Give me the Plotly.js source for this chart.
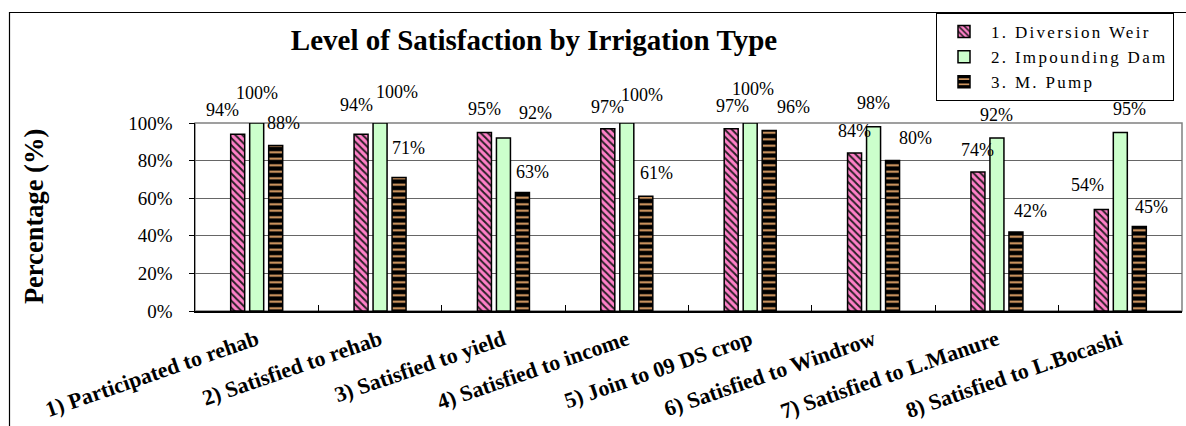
<!DOCTYPE html>
<html>
<head>
<meta charset="utf-8">
<script src="https://cdn.plot.ly/plotly-3.0.1.min.js"></script>
<style>
  html, body { margin: 0; padding: 0; background: #fff; }
  #chart { width: 1186px; height: 426px; }
  .legendtext { letter-spacing: 2.3px; }
</style>
</head>
<body>
<div id="chart"></div>
<script>
// ---- data ----
const categories = [
  '1) Participated to rehab',
  '2) Satisfied to rehab',
  '3) Satisfied to yield',
  '4) Satisfied to income',
  '5) Join to 09 DS crop',
  '6) Satisfied to Windrow',
  '7) Satisfied to L.Manure',
  '8) Satisfied to L.Bocashi'
];
const seriesNames = ['1. Diversion Weir', '2. Impounding Dam', '3. M. Pump'];
const diversionWeir = [94, 94, 95, 97, 97, 84, 74, 54];
const impoundingDam = [100, 100, 92, 100, 100, 98, 92, 95];
const mPump = [88, 71, 63, 61, 96, 80, 42, 45];
const yTickValues = [0, 20, 40, 60, 80, 100];
const yTickLabels = ['0%', '20%', '40%', '60%', '80%', '100%'];
const chartTitle = 'Level of Satisfaction by Irrigation Type';
const yTitle = 'Percentage (%)';

// ---- label nudges (px, relative to bar centre / bar top) ----
const labelDx = [
  [-15, -5, 0, 0, 1, 0, 0, -14],
  [0, 17, 32, 15, 3, 0, 0, 9],
  [8, 9, 10, 11, 24, 23, 15, 12]
];
const labelDy = [
  [24, 29, 23, 22, 23, 22, 22, 24],
  [30, 31, 25, 28, 34, 24, 23, 23],
  [23, 30, 21, 23, 24, 23, 21, 19]
];
const seriesShift = [-19, 0, 19];

const serif = 'Liberation Serif, Times New Roman, serif';
const values = [diversionWeir, impoundingDam, mPump];

const styles = [
  { color: '#FF80C8', pattern: { shape: '\\', bgcolor: '#FF80C8', fgcolor: '#2a2026', size: 5, solidity: 0.4 } },
  { color: '#CCFFCC', pattern: { shape: '' } },
  { color: '#000000', pattern: { shape: '-', bgcolor: '#000000', fgcolor: '#E3A56A', size: 6.5, solidity: 0.3 } }
];

const traces = values.map((vals, s) => ({
  type: 'bar',
  name: seriesNames[s],
  x: categories,
  y: vals,
  marker: {
    color: styles[s].color,
    pattern: styles[s].pattern,
    line: { color: '#000', width: 1.5 }
  },
  hoverinfo: 'x+y'
}));

const annotations = [];
values.forEach((vals, s) => {
  vals.forEach((v, i) => {
    annotations.push({
      x: categories[i], y: v, xref: 'x', yref: 'y',
      text: v + '%', showarrow: false,
      xanchor: 'center', yanchor: 'middle',
      xshift: seriesShift[s] + labelDx[s][i],
      yshift: labelDy[s][i],
      font: { family: serif, size: 18, color: '#000' }
    });
  });
});

annotations.push({
  x: -0.163, y: 0.5, xref: 'paper', yref: 'paper',
  text: '<b>' + yTitle + '</b>', showarrow: false, textangle: -90,
  xanchor: 'center', yanchor: 'middle',
  font: { family: serif, size: 26.5, color: '#000' }
});

const layout = {
  width: 1186, height: 426,
  margin: { l: 195, r: 4, t: 123, b: 115, pad: 0 },
  paper_bgcolor: '#fff', plot_bgcolor: '#fff',
  font: { family: serif },
  title: {
    text: '<b>' + chartTitle + '</b>',
    xref: 'container', yref: 'container',
    x: 534 / 1186, y: 1 - 40 / 426, xanchor: 'center', yanchor: 'middle',
    font: { family: serif, size: 29, color: '#000' }
  },
  barmode: 'group',
  bargap: 0.538,
  bargroupgap: 0.263,
  showlegend: true,
  legend: {
    x: (936 - 195) / 987, y: (311 - 13) / 188,
    xanchor: 'left', yanchor: 'top',
    bgcolor: '#fff', bordercolor: '#000', borderwidth: 1,
    font: { family: serif, size: 17, color: '#000' },
    tracegroupgap: 0,
    itemwidth: 44
  },
  xaxis: {
    type: 'category',
    showline: true, linecolor: '#000', linewidth: 1.5,
    ticks: 'inside', tickson: 'boundaries', ticklen: 6, tickcolor: '#000', tickwidth: 1,
    tickangle: -19,
    ticklabelstandoff: 6,
    tickfont: { family: serif, size: 22, color: '#000', weight: 'bold' },
    showgrid: false, zeroline: false, automargin: false
  },
  yaxis: {
    range: [0, 100],
    tickvals: yTickValues, ticktext: yTickLabels,
    showline: true, linecolor: '#000', linewidth: 1.5,
    ticks: 'outside', ticklen: 5, tickcolor: '#000', tickwidth: 1,
    ticklabelstandoff: 12,
    tickfont: { family: serif, size: 19, color: '#000' },
    showgrid: true, gridcolor: '#666', gridwidth: 1,
    zeroline: false, automargin: false
  },
  shapes: [
    { type: 'rect', xref: 'paper', yref: 'paper', x0: 0, x1: 1, y0: 0, y1: 1,
      line: { color: '#808080', width: 1.5 }, layer: 'below' },
    { type: 'rect', xref: 'paper', yref: 'paper',
      x0: (9.5 - 195) / 987, x1: 1.1, y0: -1, y1: (311 - 12.5) / 188,
      line: { color: '#000', width: 1.2 }, fillcolor: 'rgba(0,0,0,0)', layer: 'below' }
  ],
  annotations: annotations
};

Plotly.newPlot('chart', traces, layout, { displayModeBar: false, staticPlot: true });
</script>
</body>
</html>
